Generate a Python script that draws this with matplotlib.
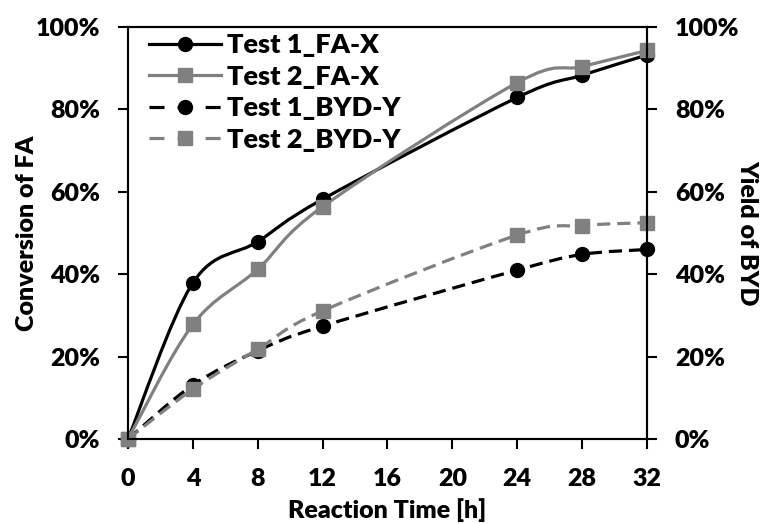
import matplotlib
matplotlib.use("Agg")
import matplotlib.pyplot as plt
from matplotlib.path import Path
from matplotlib.patches import PathPatch
from matplotlib.lines import Line2D
from matplotlib.ticker import FuncFormatter

WEIGHT = 'heavy'
plt.rcParams['font.family'] = ['Lato', 'DejaVu Sans']
plt.rcParams['font.weight'] = WEIGHT
plt.rcParams['font.size'] = 18
plt.rcParams['lines.scale_dashes'] = False

# ---- data ----
time_h = [0, 4, 8, 12, 24, 28, 32]
test1_fa_x = [0, 37.9, 47.9, 58.2, 82.9, 88.3, 93.2]
test2_fa_x = [0, 27.8, 41.2, 56.4, 86.5, 90.4, 94.3]
test1_byd_y = [0, 13.1, 21.4, 27.4, 41.0, 44.8, 46.0]
test2_byd_y = [0, 12.1, 21.8, 31.1, 49.5, 51.8, 52.5]
labels = ["Test 1_FA-X", "Test 2_FA-X", "Test 1_BYD-Y", "Test 2_BYD-Y"]
x_ticks = [0, 4, 8, 12, 16, 20, 24, 28, 32]
y_ticks = [0, 20, 40, 60, 80, 100]

BLACK = '#000000'
GRAY = '#808080'
DASH = (0, (9.5, 5.0))
LEG_DASH = (0, (10.8, 9.4))
LW = 2.3
MS = 10


def smooth_path(xs, ys):
    """Excel-style smoothed line: cubic Bezier segments through the points."""
    n = len(xs)
    pts = list(zip(xs, ys))
    verts = [pts[0]]
    codes = [Path.MOVETO]
    for i in range(n - 1):
        p_prev = pts[i - 1] if i > 0 else pts[i]
        p0 = pts[i]
        p1 = pts[i + 1]
        p_next = pts[i + 2] if i + 2 < n else pts[i + 1]
        c1 = (p0[0] + (p1[0] - p_prev[0]) / 6.0, p0[1] + (p1[1] - p_prev[1]) / 6.0)
        c2 = (p1[0] - (p_next[0] - p0[0]) / 6.0, p1[1] - (p_next[1] - p0[1]) / 6.0)
        verts += [c1, c2, p1]
        codes += [Path.CURVE4, Path.CURVE4, Path.CURVE4]
    return Path(verts, codes)


fig = plt.figure(figsize=(7.63, 5.24), dpi=100)
ax = fig.add_axes([128 / 763, 1 - 439 / 524, (647 - 128) / 763, (439 - 27) / 524])
ax2 = ax.twinx()

series = [
    (ax, test1_fa_x, BLACK, '-', 'o'),
    (ax, test2_fa_x, GRAY, '-', 's'),
    (ax2, test1_byd_y, BLACK, DASH, 'o'),
    (ax2, test2_byd_y, GRAY, DASH, 's'),
]

handles = []
for (a, ys, col, ls, mk), lab in zip(series, labels):
    patch = PathPatch(smooth_path(time_h, ys), facecolor='none', edgecolor=col,
                      linewidth=LW, linestyle=ls, capstyle='butt', clip_on=False)
    a.add_patch(patch)
    a.plot(time_h, ys, linestyle='none', marker=mk, markersize=MS,
           color=col, markeredgecolor=col, clip_on=False)
    hls = LEG_DASH if ls != '-' else ls
    handles.append(Line2D([], [], color=col, linestyle=hls, linewidth=LW,
                          marker=mk, markersize=MS, markeredgecolor=col,
                          dash_capstyle='butt'))

for a in (ax, ax2):
    a.set_xlim(0, 32)
    a.set_ylim(0, 100)
    a.set_yticks(y_ticks)
    a.yaxis.set_major_formatter(FuncFormatter(lambda v, p: f"{v:.0f}%"))
    for s in a.spines.values():
        s.set_linewidth(1.5)
        s.set_color('black')

ax.set_xticks(x_ticks)
ax.set_xticklabels([str(t) for t in x_ticks])
ax.tick_params(axis='x', direction='out', length=7, width=1.5, pad=14, top=False)
ax.tick_params(axis='y', direction='out', length=7, width=1.5, pad=13, right=False)
ax2.tick_params(axis='y', direction='out', length=7, width=1.5, pad=13, left=False)

ax.set_xlabel("Reaction Time [h]", fontweight=WEIGHT, va='center')
ax.xaxis.set_label_coords(0.5, -0.172)
ax.set_ylabel("Conversion of FA", fontweight=WEIGHT, va='center')
ax.yaxis.set_label_coords(-0.195, 0.5)
ax2.set_ylabel("Yield of BYD", fontweight=WEIGHT, rotation=-90, va='center')
ax2.yaxis.set_label_coords(1.193, 0.5)

leg = ax2.legend(handles, labels, loc='upper left', bbox_to_anchor=(0.04, 0.985),
                 frameon=False, borderpad=0, borderaxespad=0, handlelength=2.65,
                 handletextpad=0.25, labelspacing=0.28, numpoints=1,
                 prop={'size': 19.5, 'weight': WEIGHT})

fig.savefig("out.png", dpi=100)
